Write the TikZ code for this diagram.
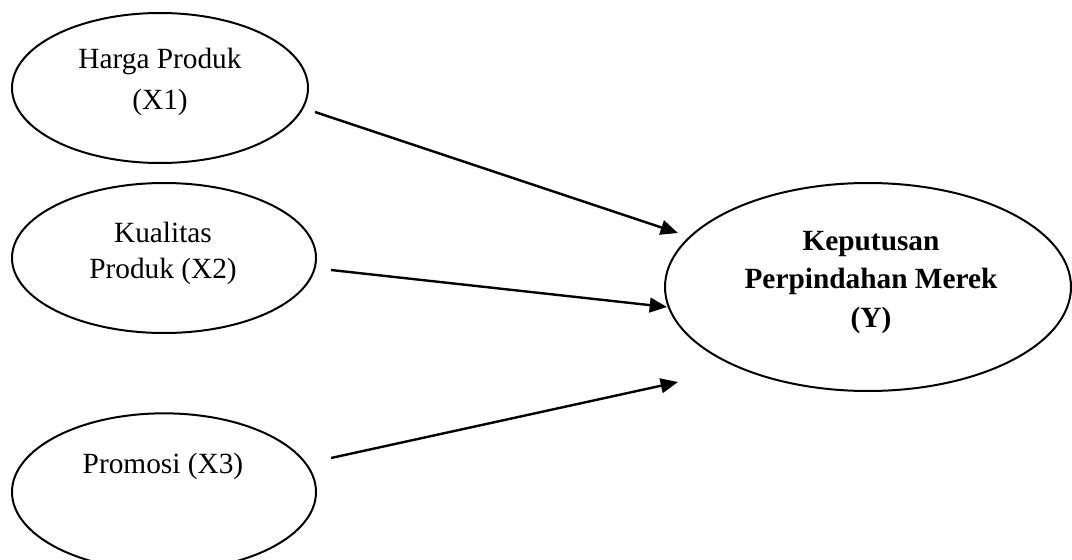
\documentclass[tikz,border=0pt]{standalone}
\usepackage{fontspec}
\setmainfont{Liberation Serif}
\usetikzlibrary{arrows.meta,shapes.geometric}

\begin{document}
\begin{tikzpicture}[x=0.75pt,y=-0.75pt,
  var/.style={draw,ellipse,line width=1.5pt,inner sep=0pt},
  lbl/.style={anchor=base,inner sep=0pt,font=\fontsize{22}{26}\selectfont},
  blbl/.style={lbl,font=\fontsize{22}{26}\selectfont\bfseries},
  link/.style={line width=1.8pt,-{Triangle[length=13pt,width=11pt]}}]
\useasboundingbox (0,0) rectangle (1072,560);
\clip (0,0) rectangle (1072,560);

% independent variables
\node[var,minimum width=222pt,minimum height=112.5pt] (x1) at (160,88) {};
\node[lbl] (x1a) at (160,69) {Harga Produk};
\node[lbl] (x1b) at (160,110) {(X1)};

\node[var,minimum width=228pt,minimum height=112.5pt] (x2) at (164,258) {};
\node[lbl] (x2a) at (163,242) {Kualitas};
\node[lbl] (x2b) at (163,278) {Produk (X2)};

\node[var,minimum width=228pt,minimum height=118pt] (x3) at (164,492) {};
\node[lbl] (x3a) at (163,473) {Promosi (X3)};

% dependent variable
\node[var,minimum width=304.5pt,minimum height=156pt] (y) at (868,287) {};
\node[blbl] (ya) at (871,250) {Keputusan};
\node[blbl] (yb) at (871,288) {Perpindahan Merek};
\node[blbl] (yc) at (871,327) {(Y)};

% arrow end points
\coordinate (s1) at (315,112);
\coordinate (t1) at (678,233);
\coordinate (s2) at (331,270);
\coordinate (t2) at (667,307);
\coordinate (s3) at (331,458);
\coordinate (t3) at (678,382);

\draw[link] (s1) -- (t1);
\draw[link] (s2) -- (t2);
\draw[link] (s3) -- (t3);
\end{tikzpicture}
\end{document}
